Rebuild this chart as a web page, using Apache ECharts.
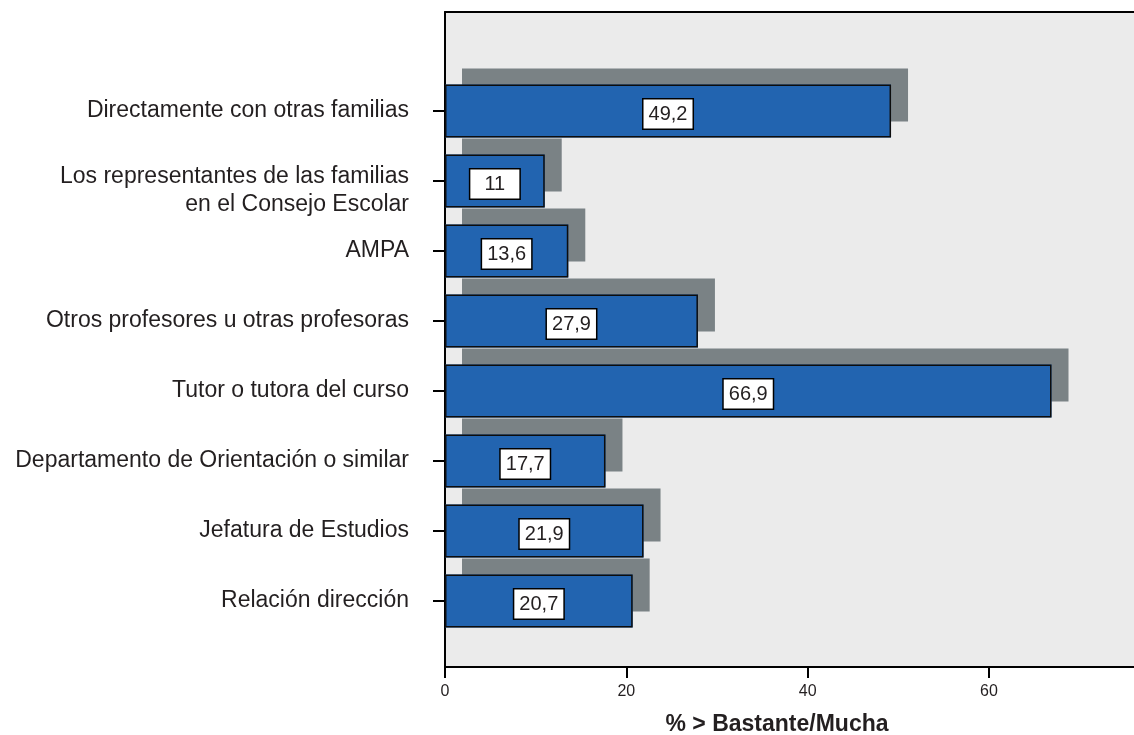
<!DOCTYPE html>
<html>
<head>
<meta charset="utf-8">
<script src="https://cdn.jsdelivr.net/npm/echarts@6/dist/echarts.min.js"></script>
<style>
html,body{margin:0;padding:0;background:#fff;}
#chart{width:1134px;height:735px;}
</style>
</head>
<body>
<div id="chart"></div>
<script>
const categories = [
  'Directamente con otras familias',
  'Los representantes de las familias\nen el Consejo Escolar',
  'AMPA',
  'Otros profesores u otras profesoras',
  'Tutor o tutora del curso',
  'Departamento de Orientación o similar',
  'Jefatura de Estudios',
  'Relación dirección'
];
const values = [49.2, 11, 13.6, 27.9, 66.9, 17.7, 21.9, 20.7];
const xTicks = [0, 20, 40, 60];
const axisTitle = '% > Bastante/Mucha';

const textColor = '#231f20';
const font = '"Liberation Sans", Arial, Helvetica, sans-serif';

const chart = echarts.init(document.getElementById('chart'), null, {renderer: 'canvas'});

chart.setOption({
  animation: false,
  backgroundColor: '#ffffff',
  grid: [
    {left: 445, right: 0, top: 12, bottom: 68, show: true, backgroundColor: '#ebebeb', borderWidth: 0,
     containLabel: false, outerBoundsMode: 'none'},
    {left: 445, right: 0, top: 76, height: 560, containLabel: false, outerBoundsMode: 'none'}
  ],
  xAxis: [
    {
      gridIndex: 0, type: 'value', min: 0, max: 76, interval: 20,
      axisLine: {show: true, lineStyle: {color: '#000', width: 2}},
      axisTick: {show: true, length: 11, lineStyle: {color: '#000', width: 2}},
      axisLabel: {
        show: true, fontSize: 16, color: textColor, fontFamily: font, margin: 17,
        showMaxLabel: false,
        formatter: v => xTicks.indexOf(v) >= 0 ? String(v) : ''
      },
      splitLine: {show: false},
      name: axisTitle, nameLocation: 'middle', nameGap: 46,
      nameTextStyle: {fontSize: 23, fontWeight: 'bold', color: textColor, fontFamily: font, padding: [0, 25, 0, 0]}
    },
    {
      gridIndex: 0, type: 'value', min: 0, max: 76, position: 'top',
      axisLine: {show: true, lineStyle: {color: '#000', width: 2}},
      axisTick: {show: false}, axisLabel: {show: false}, splitLine: {show: false}
    },
    {
      gridIndex: 1, type: 'value', min: 0, max: 76, show: false, splitLine: {show: false}
    }
  ],
  yAxis: [
    {
      gridIndex: 0, type: 'value', min: 0, max: 1,
      axisLine: {show: true, lineStyle: {color: '#000', width: 2}},
      axisTick: {show: false}, axisLabel: {show: false}, splitLine: {show: false}
    },
    {
      gridIndex: 1, type: 'category', inverse: true, data: categories,
      axisLine: {show: false},
      axisTick: {show: true, alignWithLabel: true, length: 12, lineStyle: {color: '#000', width: 2}},
      axisLabel: {
        fontSize: 23, color: textColor, fontFamily: font, margin: 36, align: 'right',
        formatter: v => {
          const lines = v.split('\n');
          if (lines.length > 1) {
            return '{s| }\n' + lines.map(l => '{t|' + l + '}').join('\n');
          }
          return '{t|' + v + '}';
        },
        rich: {
          t: {fontSize: 23, lineHeight: 28, color: textColor, fontFamily: font},
          s: {fontSize: 2, lineHeight: 20}
        }
      }
    }
  ],
  series: [
    {
      type: 'bar', xAxisIndex: 2, yAxisIndex: 1, data: values,
      barWidth: 53, clip: false, silent: true,
      itemStyle: {
        color: '#2264b0', borderWidth: 0,
        shadowColor: '#7a8285', shadowBlur: 0, shadowOffsetX: 17, shadowOffsetY: -16
      }
    },
    {
      type: 'bar', xAxisIndex: 2, yAxisIndex: 1, data: values,
      barWidth: 53, barGap: '-100%', clip: false,
      itemStyle: {color: '#2264b0', borderColor: '#0d0d0d', borderWidth: 1.5},
      label: {
        show: true, position: 'inside', offset: [0, 3],
        formatter: p => String(p.value).replace('.', ','),
        fontSize: 20, color: textColor, fontFamily: font,
        backgroundColor: '#ffffff', borderColor: '#000', borderWidth: 1.5,
        width: 49, height: 29, lineHeight: 29, align: 'center', verticalAlign: 'middle'
      }
    }
  ]
});
</script>
</body>
</html>
